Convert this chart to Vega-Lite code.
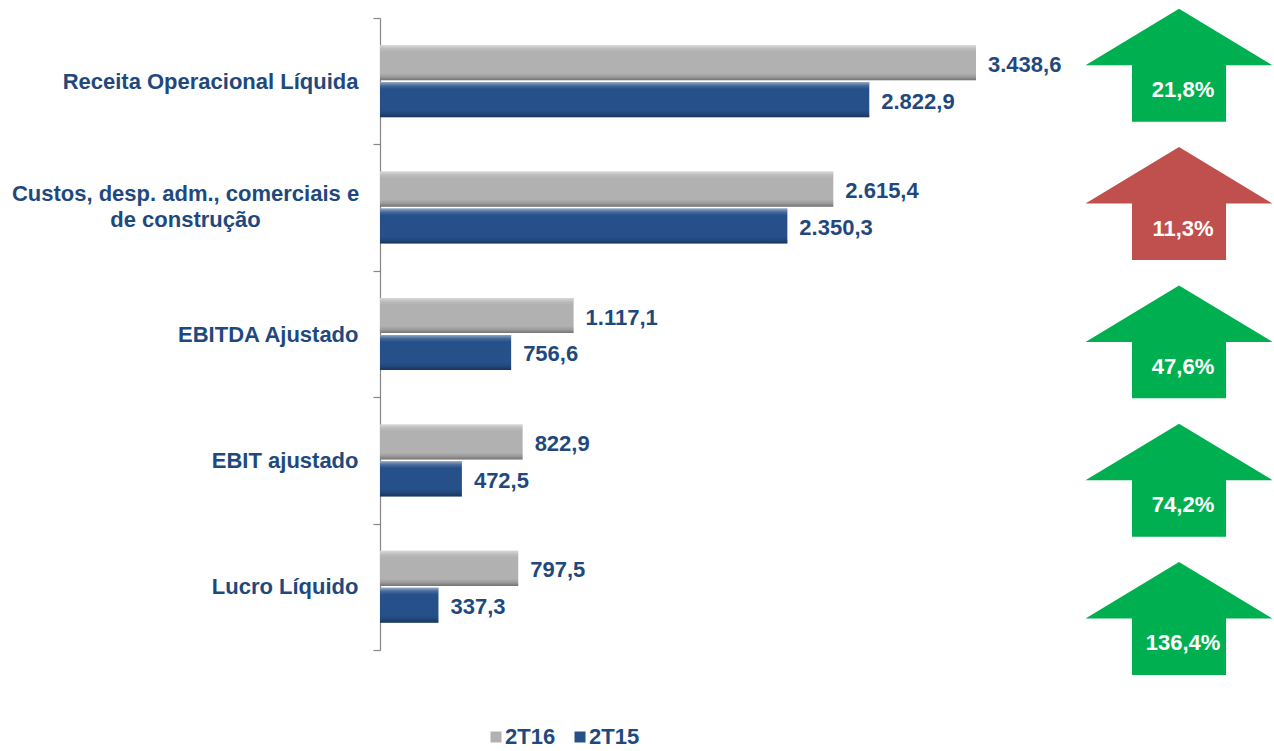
{
  "$schema": "https://vega.github.io/schema/vega-lite/v6.json",
  "autosize": {"type": "none"},
  "width": 894,
  "height": 632,
  "padding": {"left": 380, "top": 18, "right": 0, "bottom": 101},
  "config": {
    "view": {"stroke": null},
    "font": "Liberation Sans",
    "locale": {"number": {"decimal": ",", "thousands": ".", "grouping": [3], "currency": ["R$ ", ""]}}
  },
  "datasets": {
    "barras": [
      {"categoria": "Receita Operacional Líquida", "serie": "2T16", "valor": 3438.6},
      {"categoria": "Receita Operacional Líquida", "serie": "2T15", "valor": 2822.9},
      {"categoria": "Custos, desp. adm., comerciais e de construção", "serie": "2T16", "valor": 2615.4},
      {"categoria": "Custos, desp. adm., comerciais e de construção", "serie": "2T15", "valor": 2350.3},
      {"categoria": "EBITDA Ajustado", "serie": "2T16", "valor": 1117.1},
      {"categoria": "EBITDA Ajustado", "serie": "2T15", "valor": 756.6},
      {"categoria": "EBIT ajustado", "serie": "2T16", "valor": 822.9},
      {"categoria": "EBIT ajustado", "serie": "2T15", "valor": 472.5},
      {"categoria": "Lucro Líquido", "serie": "2T16", "valor": 797.5},
      {"categoria": "Lucro Líquido", "serie": "2T15", "valor": 337.3}
    ],
    "setas": [
      {"categoria": "Receita Operacional Líquida", "variacao": 0.218, "avaliacao": "favorável"},
      {"categoria": "Custos, desp. adm., comerciais e de construção", "variacao": 0.113, "avaliacao": "desfavorável"},
      {"categoria": "EBITDA Ajustado", "variacao": 0.476, "avaliacao": "favorável"},
      {"categoria": "EBIT ajustado", "variacao": 0.742, "avaliacao": "favorável"},
      {"categoria": "Lucro Líquido", "variacao": 1.364, "avaliacao": "favorável"}
    ]
  },
  "resolve": {"scale": {"y": "independent", "color": "independent"}},
  "layer": [
    {
      "data": {"name": "barras"},
      "encoding": {
        "y": {
          "field": "categoria", "type": "nominal",
          "scale": {"domain": ["Receita Operacional Líquida", "Custos, desp. adm., comerciais e de construção", "EBITDA Ajustado", "EBIT ajustado", "Lucro Líquido"], "paddingInner": 0, "paddingOuter": 0},
          "axis": {
            "title": null,
            "domainColor": "#868686",
            "domainWidth": 1.2,
            "tickColor": "#868686",
            "tickWidth": 1.2,
            "tickSize": 7,
            "tickBand": "extent",
            "labelFont": "Liberation Sans",
            "labelFontSize": 22,
            "labelFontWeight": "bold",
            "labelColor": "#1F497D",
            "labelLimit": 400,
            "labelLineHeight": 26,
            "labelExpr": "datum.value === 'Custos, desp. adm., comerciais e de construção' ? ['Custos, desp. adm., comerciais e', 'de construção'] : datum.label",
            "labelAlign": {"condition": {"test": "datum.value === 'Custos, desp. adm., comerciais e de construção'", "value": "center"}, "value": "right"},
            "labelPadding": {"condition": {"test": "datum.value === 'Custos, desp. adm., comerciais e de construção'", "value": 188}, "value": 15},
            "labelOffset": {"condition": {"test": "datum.value === 'Custos, desp. adm., comerciais e de construção'", "value": -14}, "value": 0}
          }
        },
        "yOffset": {
          "field": "serie", "type": "nominal",
          "scale": {"domain": ["2T16", "2T15"], "paddingInner": 0.05, "paddingOuter": 0.7375}
        },
        "x": {
          "field": "valor", "type": "quantitative",
          "scale": {"domain": [0, 5158], "nice": false, "zero": true},
          "axis": null
        }
      },
      "layer": [
        {
          "mark": {"type": "bar"},
          "encoding": {
            "color": {
              "field": "serie", "type": "nominal",
              "scale": {"domain": ["2T16", "2T15"], "range": ["#B1B1B1", "#26508A"]},
              "legend": {
                "title": null,
                "orient": "none",
                "legendX": 105,
                "legendY": 708,
                "direction": "horizontal",
                "symbolType": "square",
                "symbolSize": 121,
                "symbolStrokeWidth": 0,
                "labelFont": "Liberation Sans",
                "labelFontSize": 22,
                "labelFontWeight": "bold",
                "labelColor": "#1F497D",
                "labelOffset": -2,
                "columnPadding": 13,
                "padding": 0
              }
            }
          }
        },
        {
          "mark": {
            "type": "bar",
            "fill": {
              "gradient": "linear", "x1": 0, "y1": 0, "x2": 0, "y2": 1,
              "stops": [
                {"offset": 0, "color": "rgba(255,255,255,0.5)"},
                {"offset": 0.1, "color": "rgba(255,255,255,0.15)"},
                {"offset": 0.2, "color": "rgba(255,255,255,0)"},
                {"offset": 0.8, "color": "rgba(0,0,0,0)"},
                {"offset": 0.9, "color": "rgba(0,0,0,0.12)"},
                {"offset": 1, "color": "rgba(0,0,0,0.35)"}
              ]
            }
          }
        },
        {
          "mark": {"type": "text", "align": "left", "baseline": "middle", "dx": 12, "dy": 2, "font": "Liberation Sans", "fontSize": 22, "fontWeight": "bold", "color": "#1F497D"},
          "encoding": {
            "text": {"field": "valor", "type": "quantitative", "format": ",.1f"}
          }
        }
      ]
    },
    {
      "data": {"name": "setas"},
      "encoding": {
        "y": {
          "field": "categoria", "type": "nominal",
          "scale": {"type": "point", "domain": ["Receita Operacional Líquida", "Custos, desp. adm., comerciais e de construção", "EBITDA Ajustado", "EBIT ajustado", "Lucro Líquido"], "padding": 0.285, "align": 0.6},
          "axis": null
        },
        "x": {"datum": 4610, "type": "quantitative"}
      },
      "layer": [
        {
          "mark": {
            "type": "point",
            "filled": true,
            "opacity": 1,
            "strokeWidth": 0,
            "size": 34969,
            "shape": "M0,-0.604L1,0L0.503,0L0.503,0.604L-0.503,0.604L-0.503,0L-1,0Z"
          },
          "encoding": {
            "color": {
              "field": "avaliacao", "type": "nominal",
              "scale": {"domain": ["favorável", "desfavorável"], "range": ["#00B050", "#C0504D"]},
              "legend": null
            }
          }
        },
        {
          "mark": {"type": "text", "align": "center", "baseline": "middle", "dx": 4, "dy": 25, "font": "Liberation Sans", "fontSize": 22, "fontWeight": "bold", "color": "#FFFFFF"},
          "encoding": {
            "text": {"field": "variacao", "type": "quantitative", "format": ".1%"}
          }
        }
      ]
    }
  ]
}
